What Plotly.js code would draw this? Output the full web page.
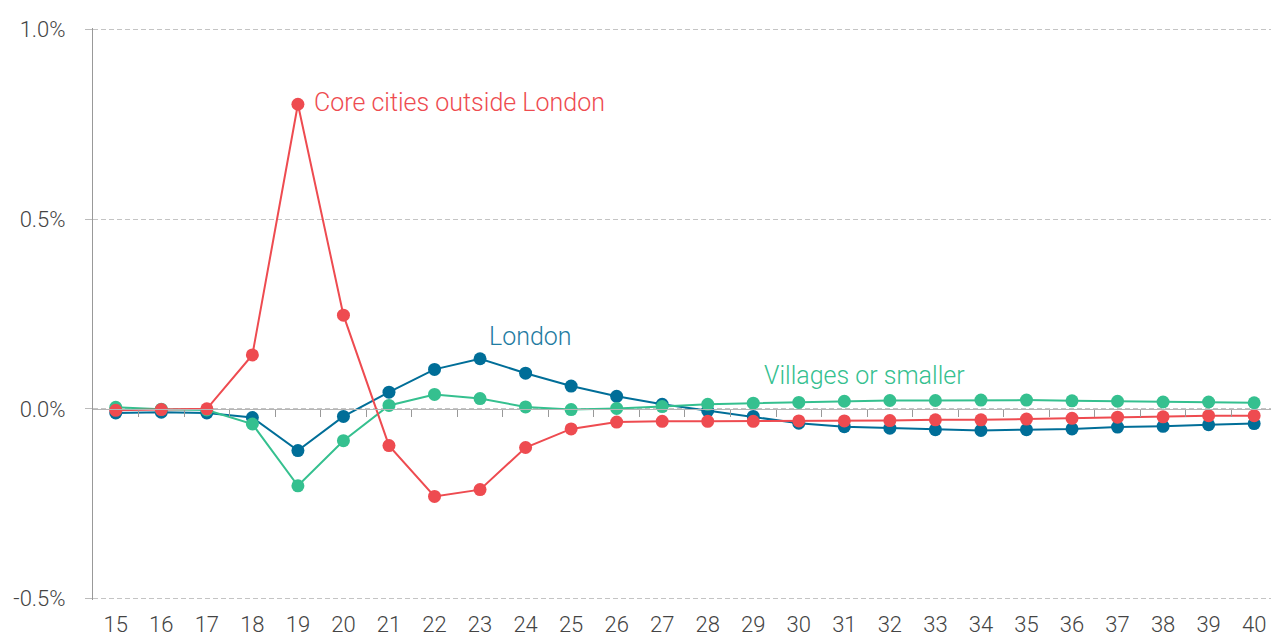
<!DOCTYPE html>
<html>
<head>
<meta charset="utf-8">
<script src="https://cdn.plot.ly/plotly-3.0.1.min.js"></script>
<style>html,body{margin:0;padding:0;background:#fff;}#chart{width:1271px;height:638px;}</style>
</head>
<body>
<div id="chart"></div>
<script>
const ages = [15,16,17,18,19,20,21,22,23,24,25,26,27,28,29,30,31,32,33,34,35,36,37,38,39,40];
const coreCities = [-0.004,-0.002,0.0,0.142,0.803,0.247,-0.097,-0.231,-0.213,-0.102,-0.053,-0.035,-0.033,-0.033,-0.033,-0.032,-0.032,-0.031,-0.029,-0.029,-0.027,-0.025,-0.022,-0.021,-0.018,-0.018];
const london = [-0.011,-0.009,-0.011,-0.023,-0.110,-0.020,0.044,0.104,0.132,0.094,0.060,0.033,0.012,-0.005,-0.020,-0.038,-0.047,-0.051,-0.055,-0.057,-0.055,-0.053,-0.048,-0.046,-0.042,-0.039];
const villages = [0.004,-0.001,-0.003,-0.040,-0.203,-0.084,0.009,0.038,0.027,0.005,-0.002,0.001,0.006,0.012,0.015,0.017,0.020,0.022,0.022,0.023,0.023,0.021,0.020,0.018,0.018,0.016];
const yTicks = [-0.5,0,0.5,1.0];
const yTickText = ['-0.5%','0.0%','0.5%','1.0%'];
const seriesNames = ['London','Villages or smaller','Core cities outside London'];
const colors = {london:'#006E98', villages:'#35C08F', core:'#EE4B50'};

const font = 'Roboto, "Noto Sans", sans-serif';
function tr(y, name, color){
  return {x: ages, y: y, name: name, type:'scatter', mode:'lines+markers',
    line:{color:color, width:2}, marker:{color:color, size:13}, hoverinfo:'x+y'};
}
const data = [
  // invisible helper bound to the zero-line axis so it gets drawn
  {x: ages, y: london, xaxis:'x2', yaxis:'y', type:'scatter', mode:'markers', marker:{opacity:0}, hoverinfo:'skip', showlegend:false},
  tr(london, seriesNames[0], colors.london),
  tr(villages, seriesNames[1], colors.villages),
  tr(coreCities, seriesNames[2], colors.core)
];
const xr = [14.5, 40.37];
const yr = [-0.504, 1.004];
const midTicks = ages.slice(0,-1).map(a => a + 0.5);
const tickFont = {size:22, color:'#444', family:font, weight:300};
const layout = {
  width:1271, height:638,
  margin:{l:93, r:0, t:27.5, b:37.5},
  paper_bgcolor:'#fff', plot_bgcolor:'#fff',
  showlegend:false,
  font:{family:font, color:'#555', size:20},
  xaxis:{range:xr, tickvals:ages, ticktext:ages.map(String), showgrid:false, zeroline:false,
    showline:false, ticks:'', ticklabelstandoff:9, tickfont:tickFont, fixedrange:true},
  xaxis2:{range:xr, overlaying:'x', anchor:'free', position:(0 - yr[0])/(yr[1]-yr[0]), side:'bottom', tickvals:midTicks,
    showticklabels:false, ticks:'outside', ticklen:7, tickcolor:'#999', tickwidth:1,
    showline:true, linecolor:'#b5b5b5', linewidth:1.5, showgrid:false, zeroline:false, fixedrange:true},
  yaxis:{range:yr, tickvals:yTicks, ticktext:yTickText, showgrid:true, gridcolor:'#c4c4c4',
    griddash:'5px,3px', gridwidth:1, zeroline:false, showline:true, linecolor:'#999', linewidth:1,
    ticks:'outside', ticklen:7, tickcolor:'#bbb', ticklabelstandoff:15,
    tickfont:tickFont, fixedrange:true},
  annotations:[
    {x:19, y:0.808, xref:'x', yref:'y', text:seriesNames[2], showarrow:false, xanchor:'left', yanchor:'middle', xshift:14, font:{size:25, color:colors.core, family:font, weight:300}},
    {x:23.15, y:0.19, xref:'x', yref:'y', text:seriesNames[0], showarrow:false, xanchor:'left', yanchor:'middle', font:{size:25, color:'#1F7CA2', family:font, weight:300}},
    {x:29.2, y:0.088, xref:'x', yref:'y', text:seriesNames[1], showarrow:false, xanchor:'left', yanchor:'middle', font:{size:25, color:colors.villages, family:font, weight:300}}
  ]
};
Plotly.newPlot('chart', data, layout, {displayModeBar:false, staticPlot:true});
</script>
</body>
</html>
